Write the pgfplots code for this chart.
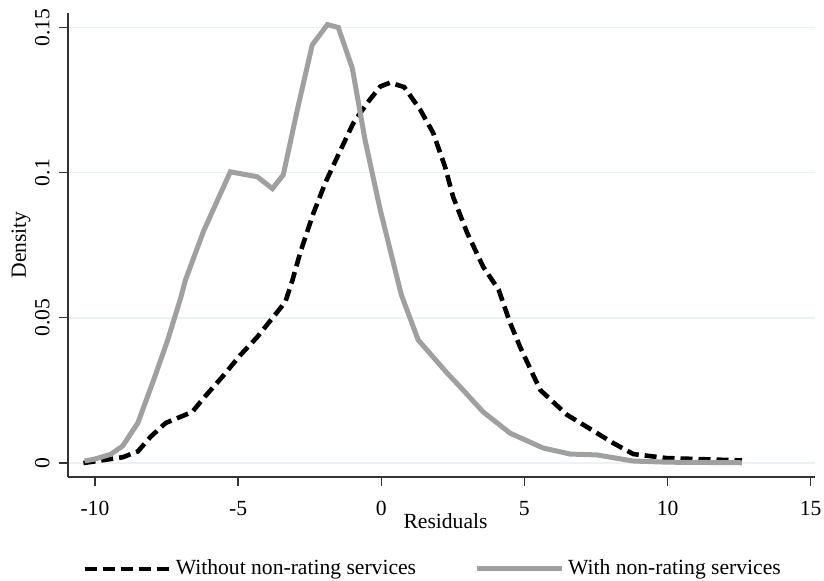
\documentclass[border=0pt]{standalone}
\usepackage{fontspec}
\setmainfont{Liberation Serif}
\usepackage{pgfplots}
\pgfplotsset{compat=1.18}
\definecolor{gridc}{HTML}{EAF2F3}
\definecolor{grayline}{HTML}{A0A0A0}
\definecolor{axc}{HTML}{333333}
\newcommand{\lf}{\fontsize{10.8}{13}\selectfont}
\begin{document}
\begin{tikzpicture}
\useasboundingbox (-34pt,-52pt) rectangle (378pt,238.5pt);
\begin{axis}[
  at={(0,0)}, anchor=south west,
  scale only axis, width=373.5pt, height=232pt,
  xmin=-10.94, xmax=15.15, ymin=-0.0048, ymax=0.155,
  axis x line*=bottom, axis y line*=left,
  axis line style={line width=0.6pt, color=axc},
  xtick={-10,-5,0,5,10,15}, xticklabels={-10,-5,0,5,10,15},
  ytick={0,0.05,0.1,0.15}, yticklabels={0,0.05,0.1,0.15},
  tick align=outside, major tick length=4.5pt,
  tick style={line width=0.6pt, color=axc},
  ymajorgrids, grid style={gridc, line width=0.7pt},
  ticklabel style={font=\lf},
  yticklabel style={rotate=90, anchor=south, inner sep=4.5pt},
  xticklabel style={anchor=north, inner sep=0pt, yshift=-7.5pt},
  xlabel={Residuals}, ylabel={Density},
  label style={font=\lf},
  xlabel style={at={([yshift=-26pt,xshift=2pt]axis description cs:0.5,0)}, anchor=base},
  ylabel style={at={([xshift=-21pt]axis description cs:0,0.5)}, anchor=base},
  legend columns=2,
  legend cell align=left,
  legend image code/.code={\path (0pt,0pt) -- (42.5pt,0pt); \draw[#1] (0pt,0pt) -- (39pt,0pt);},
  legend style={draw=none, fill=none, at={([yshift=-46pt,xshift=-4pt]axis description cs:0.5,0)}, anchor=center,
    font=\lf,
    /tikz/every even column/.append style={column sep=27pt}},
]
\addplot[black, line width=2.3pt, dash pattern=on 6pt off 3pt] coordinates {
(-10.4,0.0) (-9.03,0.002) (-8.5,0.004) (-8.06,0.009) (-7.53,0.0138) (-6.6,0.0176)
(-6.2,0.0224) (-5.55,0.0297) (-4.92,0.0372) (-4.33,0.0434) (-3.77,0.0503) (-3.35,0.0555)
(-3.1,0.063) (-2.83,0.0724) (-2.37,0.086) (-1.95,0.0966) (-1.53,0.1055) (-0.98,0.117)
(-0.49,0.124) (-0.03,0.1297) (0.31,0.131) (0.8,0.1295) (1.36,0.1217) (1.81,0.1138)
(2.23,0.102) (2.51,0.0917) (3.0,0.0793) (3.56,0.0676) (4.1,0.0597) (4.5,0.0483)
(4.85,0.04) (5.55,0.0252) (6.49,0.0166) (7.19,0.0124) (8.1,0.0069) (8.8,0.0031)
(9.98,0.0017) (12.6,0.0009)
};
\addlegendentry{Without non-rating services}
\addplot[grayline, line width=2.5pt] coordinates {
(-10.36,0.0007) (-10.0,0.0014) (-9.45,0.003) (-9.03,0.0059) (-8.5,0.0138) (-7.95,0.0286)
(-7.47,0.042) (-7.0,0.057) (-6.84,0.063) (-6.2,0.080) (-5.27,0.1003) (-4.33,0.0986)
(-3.8,0.0945) (-3.42,0.0993) (-2.93,0.1217) (-2.41,0.144) (-1.88,0.151) (-1.5,0.150)
(-1.01,0.136) (-0.56,0.111) (-0.03,0.087) (0.7,0.058) (1.29,0.0424) (2.3,0.031)
(2.76,0.0262) (3.56,0.0176) (4.5,0.0103) (5.65,0.0052) (6.6,0.0031) (7.53,0.0028)
(8.8,0.0007) (9.98,0.0003) (12.6,0.0001)
};
\addlegendentry{With non-rating services}
\end{axis}
\end{tikzpicture}
\end{document}
